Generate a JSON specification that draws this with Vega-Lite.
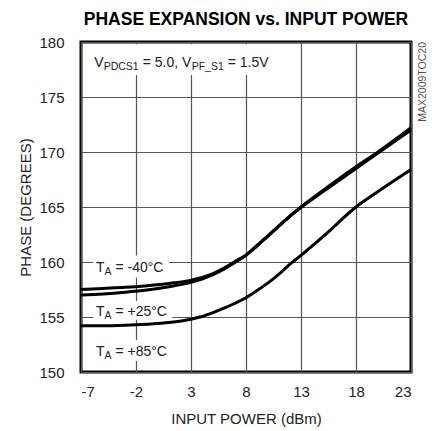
{
  "$schema": "https://vega.github.io/schema/vega-lite/v6.json",
  "width": 330,
  "height": 330,
  "autosize": "none",
  "padding": {"left": 81, "top": 42, "right": 21, "bottom": 59},
  "background": "white",
  "title": {
    "text": "PHASE EXPANSION vs. INPUT POWER",
    "font": "Liberation Sans",
    "fontSize": 17.5,
    "fontWeight": "bold",
    "color": "black",
    "anchor": "middle",
    "offset": 7
  },
  "config": {
    "view": {"stroke": "black", "strokeWidth": 3},
    "font": "Liberation Sans",
    "axis": {
      "domain": false,
      "ticks": false,
      "grid": true,
      "gridColor": "#555555",
      "gridWidth": 1.2,
      "labelFont": "Liberation Sans",
      "titleFont": "Liberation Sans",
      "labelFontSize": 15,
      "titleFontSize": 15,
      "titleFontWeight": "normal",
      "labelColor": "#222222",
      "titleColor": "#222222",
      "labelExpr": "'' + datum.value"
    }
  },
  "datasets": {
    "curves": [
      {"p": -7, "phase": 157.5, "s": "a"}, {"p": -5, "phase": 157.6, "s": "a"}, {"p": -3, "phase": 157.7, "s": "a"}, {"p": -1, "phase": 157.85, "s": "a"}, {"p": 1, "phase": 158.05, "s": "a"}, {"p": 3, "phase": 158.35, "s": "a"}, {"p": 4, "phase": 158.6, "s": "a"}, {"p": 5, "phase": 158.95, "s": "a"}, {"p": 6, "phase": 159.45, "s": "a"}, {"p": 7, "phase": 160.05, "s": "a"}, {"p": 8, "phase": 160.65, "s": "a"}, {"p": 9, "phase": 161.5, "s": "a"}, {"p": 10, "phase": 162.4, "s": "a"}, {"p": 11, "phase": 163.3, "s": "a"}, {"p": 12, "phase": 164.2, "s": "a"}, {"p": 13, "phase": 165.0, "s": "a"}, {"p": 15, "phase": 166.5, "s": "a"}, {"p": 18, "phase": 168.65, "s": "a"}, {"p": 20, "phase": 170.0, "s": "a"}, {"p": 23, "phase": 172.2, "s": "a"},
      {"p": -7, "phase": 157.0, "s": "b"}, {"p": -5, "phase": 157.1, "s": "b"}, {"p": -3, "phase": 157.25, "s": "b"}, {"p": -1, "phase": 157.45, "s": "b"}, {"p": 1, "phase": 157.75, "s": "b"}, {"p": 3, "phase": 158.15, "s": "b"}, {"p": 4, "phase": 158.45, "s": "b"}, {"p": 5, "phase": 158.85, "s": "b"}, {"p": 6, "phase": 159.35, "s": "b"}, {"p": 7, "phase": 159.95, "s": "b"}, {"p": 8, "phase": 160.6, "s": "b"}, {"p": 9, "phase": 161.45, "s": "b"}, {"p": 10, "phase": 162.35, "s": "b"}, {"p": 11, "phase": 163.25, "s": "b"}, {"p": 12, "phase": 164.15, "s": "b"}, {"p": 13, "phase": 164.95, "s": "b"}, {"p": 15, "phase": 166.4, "s": "b"}, {"p": 18, "phase": 168.5, "s": "b"}, {"p": 20, "phase": 169.9, "s": "b"}, {"p": 23, "phase": 172.0, "s": "b"},
      {"p": -7, "phase": 154.2, "s": "c"}, {"p": -5, "phase": 154.2, "s": "c"}, {"p": -3, "phase": 154.25, "s": "c"}, {"p": -1, "phase": 154.35, "s": "c"}, {"p": 1, "phase": 154.5, "s": "c"}, {"p": 3, "phase": 154.8, "s": "c"}, {"p": 4, "phase": 155.05, "s": "c"}, {"p": 5, "phase": 155.4, "s": "c"}, {"p": 6, "phase": 155.8, "s": "c"}, {"p": 7, "phase": 156.25, "s": "c"}, {"p": 8, "phase": 156.75, "s": "c"}, {"p": 9, "phase": 157.4, "s": "c"}, {"p": 10, "phase": 158.1, "s": "c"}, {"p": 11, "phase": 158.9, "s": "c"}, {"p": 12, "phase": 159.8, "s": "c"}, {"p": 13, "phase": 160.6, "s": "c"}, {"p": 15, "phase": 162.3, "s": "c"}, {"p": 18, "phase": 165.0, "s": "c"}, {"p": 20, "phase": 166.4, "s": "c"}, {"p": 23, "phase": 168.4, "s": "c"}
    ],
    "boxes": [
      {"x1": -5.9, "x2": 1.0, "y1": 158.6, "y2": 160.6},
      {"x1": -5.9, "x2": 1.3, "y1": 154.75, "y2": 156.45},
      {"x1": -5.9, "x2": 1.3, "y1": 151.0, "y2": 152.9},
      {"x1": -6.5, "x2": 10.8, "y1": 177.0, "y2": 179.8}
    ],
    "tlabels": [
      {"p": -5.64, "phase": 159.12, "rest": "= -40°C"},
      {"p": -5.64, "phase": 155.09, "rest": "= +25°C"},
      {"p": -5.64, "phase": 151.45, "rest": "= +85°C"}
    ],
    "header": [
      {"p": -5.8, "phase": 177.73}
    ],
    "mark": [
      {"p": 23, "phase": 180, "t": "MAX2009TOC20"}
    ]
  },
  "layer": [
    {
      "data": {"name": "boxes"},
      "mark": {"type": "rect", "fill": "white", "stroke": null},
      "encoding": {
        "x": {"field": "x1", "type": "quantitative", "scale": {"domain": [-7, 23]}},
        "x2": {"field": "x2"},
        "y": {"field": "y1", "type": "quantitative", "scale": {"domain": [150, 180]}},
        "y2": {"field": "y2"}
      }
    },
    {
      "data": {"name": "curves"},
      "mark": {"type": "line", "color": "black", "strokeWidth": 3, "interpolate": "monotone"},
      "encoding": {
        "x": {
          "field": "p", "type": "quantitative",
          "scale": {"domain": [-7, 23], "nice": false, "zero": false},
          "axis": {"values": [-7, -2, 3, 8, 13, 18, 23], "title": "INPUT POWER (dBm)", "labelPadding": 12, "titlePadding": 12}
        },
        "y": {
          "field": "phase", "type": "quantitative",
          "scale": {"domain": [150, 180], "nice": false, "zero": false},
          "axis": {"values": [150, 155, 160, 165, 170, 175, 180], "title": "PHASE (DEGREES)", "labelPadding": 17, "titlePadding": 5}
        },
        "detail": {"field": "s"}
      }
    },
    {
      "data": {"name": "tlabels"},
      "mark": {"type": "text", "text": "T", "align": "left", "baseline": "alphabetic", "fontSize": 14, "color": "#222222"},
      "encoding": {"x": {"field": "p", "type": "quantitative"}, "y": {"field": "phase", "type": "quantitative"}}
    },
    {
      "data": {"name": "tlabels"},
      "mark": {"type": "text", "text": "A", "align": "left", "baseline": "alphabetic", "fontSize": 10.5, "dx": 8.5, "dy": 3, "color": "#222222"},
      "encoding": {"x": {"field": "p", "type": "quantitative"}, "y": {"field": "phase", "type": "quantitative"}}
    },
    {
      "data": {"name": "tlabels"},
      "mark": {"type": "text", "align": "left", "baseline": "alphabetic", "fontSize": 14, "dx": 19.5, "color": "#222222"},
      "encoding": {"x": {"field": "p", "type": "quantitative"}, "y": {"field": "phase", "type": "quantitative"}, "text": {"field": "rest"}}
    },
    {
      "data": {"name": "header"},
      "mark": {"type": "text", "text": "V", "align": "left", "baseline": "alphabetic", "fontSize": 14, "color": "#222222"},
      "encoding": {"x": {"field": "p", "type": "quantitative"}, "y": {"field": "phase", "type": "quantitative"}}
    },
    {
      "data": {"name": "header"},
      "mark": {"type": "text", "text": "PDCS1", "align": "left", "baseline": "alphabetic", "fontSize": 10.5, "dx": 9.5, "dy": 3, "color": "#222222"},
      "encoding": {"x": {"field": "p", "type": "quantitative"}, "y": {"field": "phase", "type": "quantitative"}}
    },
    {
      "data": {"name": "header"},
      "mark": {"type": "text", "text": "= 5.0, V", "align": "left", "baseline": "alphabetic", "fontSize": 14, "dx": 48.5, "color": "#222222"},
      "encoding": {"x": {"field": "p", "type": "quantitative"}, "y": {"field": "phase", "type": "quantitative"}}
    },
    {
      "data": {"name": "header"},
      "mark": {"type": "text", "text": "PF_S1", "align": "left", "baseline": "alphabetic", "fontSize": 10.5, "dx": 97.5, "dy": 3, "color": "#222222"},
      "encoding": {"x": {"field": "p", "type": "quantitative"}, "y": {"field": "phase", "type": "quantitative"}}
    },
    {
      "data": {"name": "header"},
      "mark": {"type": "text", "text": "= 1.5V", "align": "left", "baseline": "alphabetic", "fontSize": 14, "dx": 133.5, "color": "#222222"},
      "encoding": {"x": {"field": "p", "type": "quantitative"}, "y": {"field": "phase", "type": "quantitative"}}
    },
    {
      "data": {"name": "mark"},
      "mark": {"type": "text", "angle": 270, "align": "right", "baseline": "middle", "fontSize": 10.5, "dy": 12, "dx": 0, "color": "#555555"},
      "encoding": {"x": {"field": "p", "type": "quantitative"}, "y": {"field": "phase", "type": "quantitative"}, "text": {"field": "t"}}
    }
  ]
}
